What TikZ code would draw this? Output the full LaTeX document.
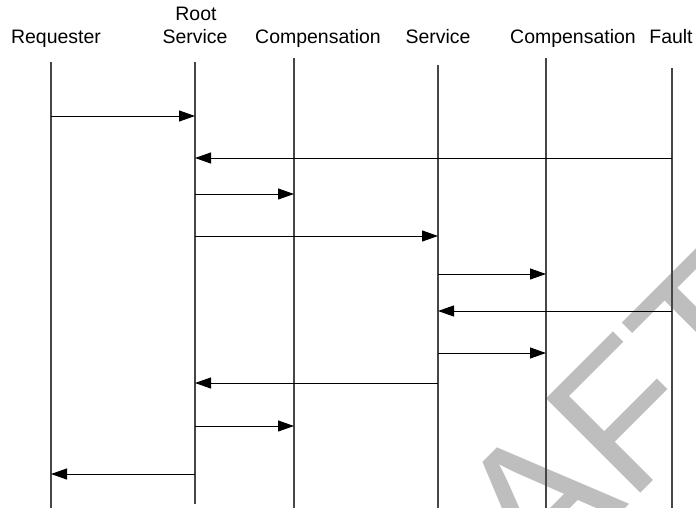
\documentclass[tikz,border=0pt]{standalone}
\usepackage{fontspec}
\setmainfont{Liberation Sans}
\usetikzlibrary{arrows.meta}
\definecolor{wmark}{RGB}{190,190,190}
\definecolor{lifegray}{RGB}{70,70,70}
\begin{document}
\begin{tikzpicture}[x=0.75pt,y=-0.75pt,
  lbl/.style={inner sep=0pt,anchor=base,font=\fontsize{14.6}{16.5}\selectfont},
  lifeline/.style={draw=lifegray,line width=0.9pt},
  msg/.style={draw=black,line width=0.75pt,-{Triangle[length=12pt,width=8.25pt]},shorten >=0pt},
  wm/.style={inner sep=0pt,anchor=base west,rotate=45,text=wmark,font=\fontsize{145.5}{150}\selectfont}]
\useasboundingbox (0,0) rectangle (696,507);
\clip (0,0) rectangle (696,507);
\fill[white] (0,0) rectangle (696,507);
% watermark
\node[wm] (draft) at (340,794) {DRAFT};
% labels
\node[lbl] (lreq) at (56,43) {Requester};
\node[lbl] (lroot1) at (196,20) {Root};
\node[lbl] (lroot2) at (195,43) {Service};
\node[lbl] (lcomp1) at (318,43) {Compensation};
\node[lbl] (lserv) at (438,43) {Service};
\node[lbl] (lcomp2) at (573,43) {Compensation};
\node[lbl] (lfault) at (671,43) {Fault};
% lifelines
\coordinate (req) at (51,62);   \coordinate (reqB) at (51,508);
\coordinate (root) at (195,62); \coordinate (rootB) at (195,504);
\coordinate (comp) at (294,58); \coordinate (compB) at (294,508);
\coordinate (serv) at (438,65); \coordinate (servB) at (438,508);
\coordinate (cmp2) at (546,58); \coordinate (cmp2B) at (546,508);
\coordinate (fault) at (672,68); \coordinate (faultB) at (672,508);
\foreach \a/\b in {req/reqB,root/rootB,comp/compB,serv/servB,cmp2/cmp2B,fault/faultB}
  \draw[lifeline] (\a) -- (\b);
% messages
\draw[msg] (req |- 0,116) -- (root |- 0,116);
\draw[msg] (fault |- 0,158) -- (root |- 0,158);
\draw[msg] (root |- 0,194) -- (comp |- 0,194);
\draw[msg] (root |- 0,236) -- (serv |- 0,236);
\draw[msg] (serv |- 0,274) -- (cmp2 |- 0,274);
\draw[msg] (fault |- 0,311) -- (serv |- 0,311);
\draw[msg] (serv |- 0,353) -- (cmp2 |- 0,353);
\draw[msg] (serv |- 0,383) -- (root |- 0,383);
\draw[msg] (root |- 0,426) -- (comp |- 0,426);
\draw[msg] (root |- 0,474) -- (req |- 0,474);
\end{tikzpicture}
\end{document}
